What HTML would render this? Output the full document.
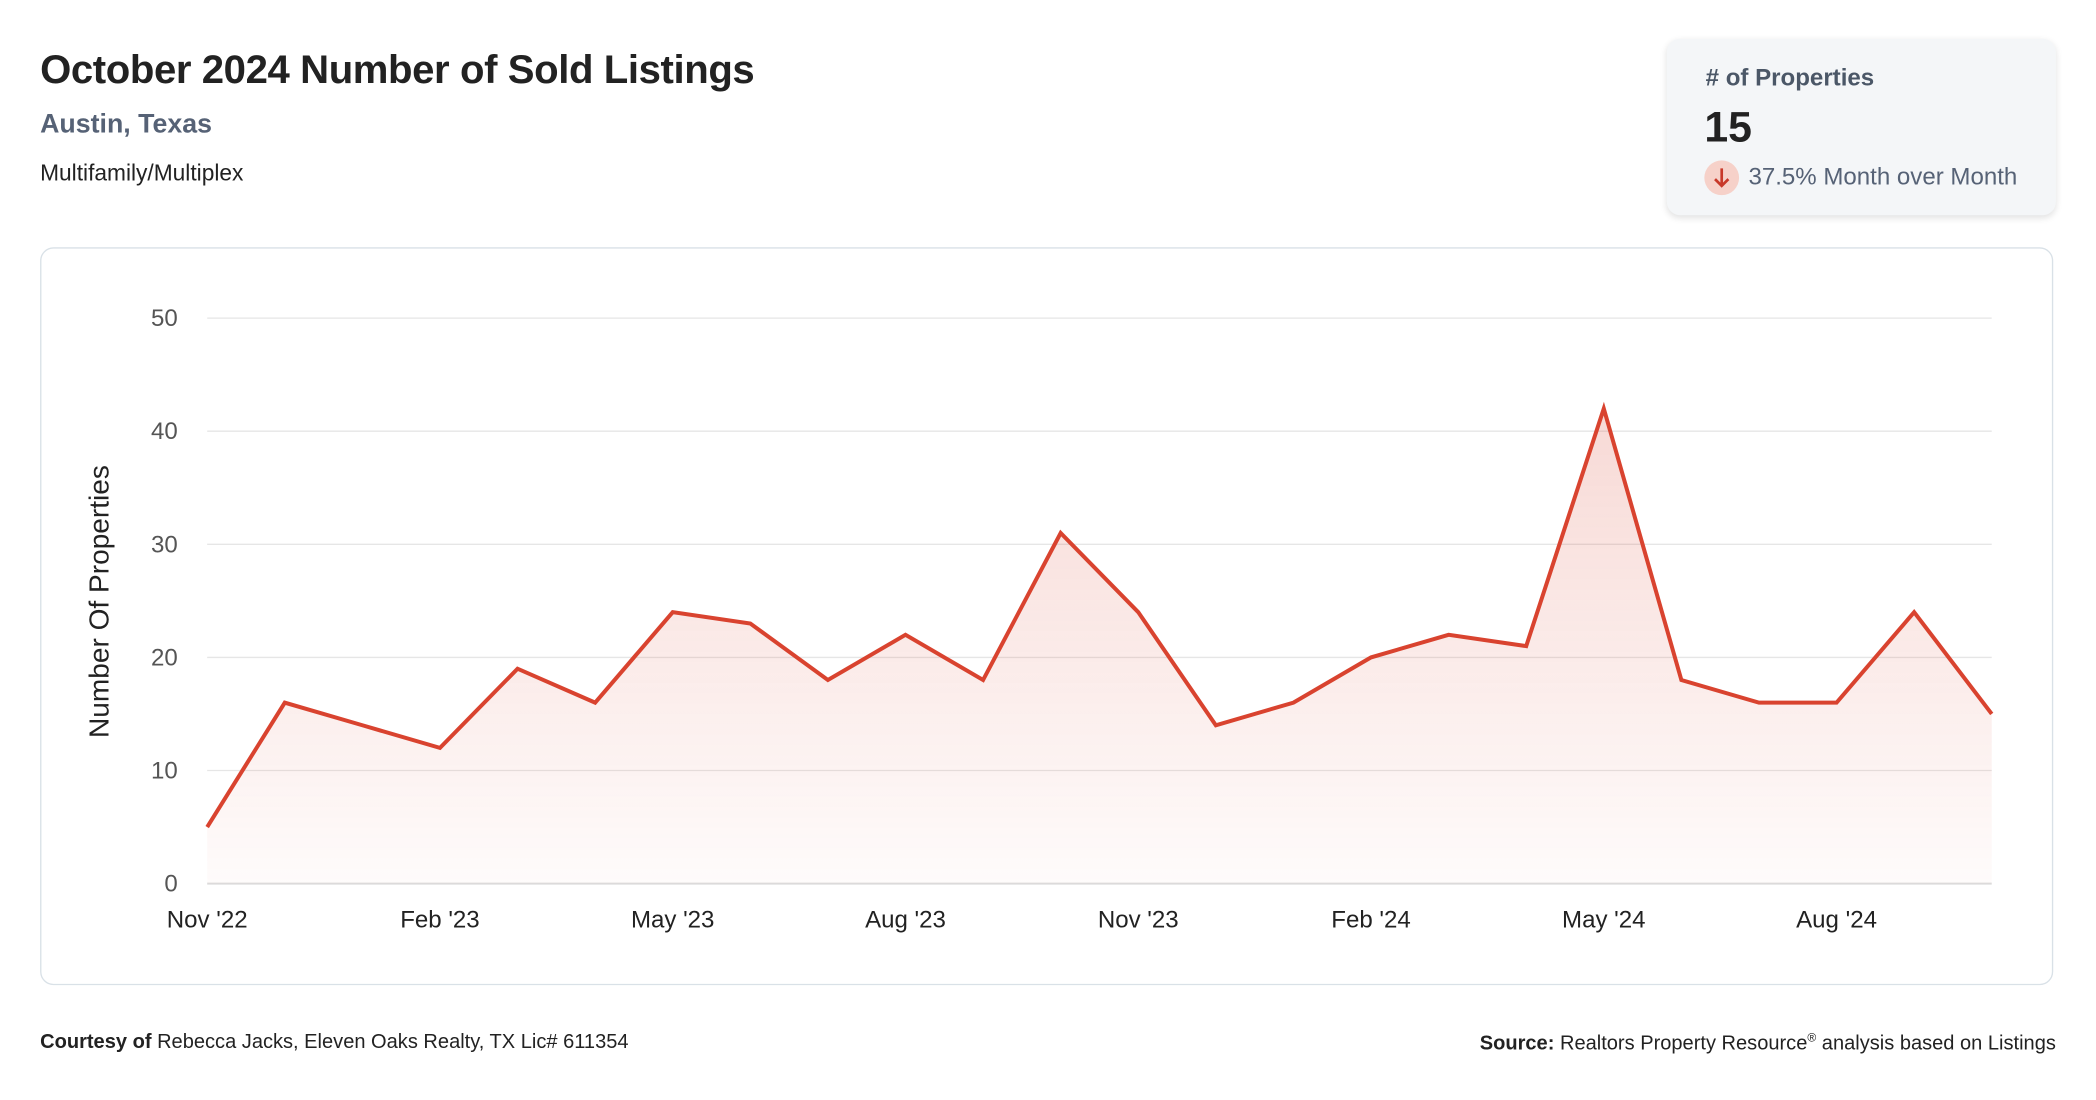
<!DOCTYPE html>
<html><head><meta charset="utf-8"><style>
html,body{margin:0;padding:0;background:#fff;width:2096px;height:1100px;overflow:hidden}
#wrap{position:absolute;left:0;top:0;width:1568px;height:823px;transform:scale(1.33673);transform-origin:0 0;font-family:"Liberation Sans",Arial,sans-serif}
.abs{position:absolute;white-space:nowrap}
</style></head><body>
<div id="wrap">
<div class="abs" style="left:30px;top:36px;font-size:30px;font-weight:bold;color:#222;letter-spacing:-0.3px">October 2024 Number of Sold Listings</div>
<div class="abs" style="left:30px;top:82px;font-size:20px;font-weight:bold;color:#566276">Austin, Texas</div>
<div class="abs" style="left:30px;top:120px;font-size:17px;color:#222">Multifamily/Multiplex</div>

<div class="abs" style="left:1247px;top:29px;width:291px;height:132px;background:#f4f6f8;border-radius:10px;box-shadow:0 2px 5px rgba(0,0,0,0.12)">
  <div class="abs" style="left:29px;top:19px;font-size:18px;font-weight:bold;color:#4b5767">#&nbsp;of Properties</div>
  <div class="abs" style="left:28px;top:48px;font-size:32px;font-weight:bold;color:#222">15</div>
  <div class="abs" style="left:28px;top:91px;width:26px;height:26px;border-radius:50%;background:#f6d1c9">
    <svg width="26" height="26" viewBox="0 0 26 26"><path d="M13 6 V19 M8 14 L13 19 L18 14" stroke="#c8392a" stroke-width="2" fill="none"/></svg>
  </div>
  <div class="abs" style="left:61px;top:93px;font-size:18px;color:#566276">37.5% Month over Month</div>
</div>

<div class="abs" style="left:30px;top:185px;width:1506px;height:552px;border:1px solid #d9e1e7;border-radius:10px;box-sizing:border-box"></div>
<svg class="abs" id="chart" style="left:0;top:0" width="1568" height="823"></svg>

<div class="abs" style="left:30px;top:771px;font-size:15px;color:#222"><b>Courtesy of</b> Rebecca Jacks, Eleven Oaks Realty, TX Lic# 611354</div>
<div class="abs" style="right:30px;top:771px;font-size:15px;color:#222"><b>Source:</b> Realtors Property Resource<sup style="font-size:9px">®</sup> analysis based on Listings</div>
</div>
<script>
const months = ["Nov '22","Dec '22","Jan '23","Feb '23","Mar '23","Apr '23","May '23","Jun '23","Jul '23","Aug '23","Sep '23","Oct '23","Nov '23","Dec '23","Jan '24","Feb '24","Mar '24","Apr '24","May '24","Jun '24","Jul '24","Aug '24","Sep '24","Oct '24"];
const soldCounts = [5,16,14,12,19,16,24,23,18,22,18,31,24,14,16,20,22,21,42,18,16,16,24,15];
const yTicks = [0,10,20,30,40,50];
const xLabelIdx = [0,3,6,9,12,15,18,21];

const NS="http://www.w3.org/2000/svg";
const svg=document.getElementById('chart');
const X0=155,X1=1490,Y0=661,Y1=238,YMAX=50;
const xs=i=>X0+(X1-X0)*i/(months.length-1);
const ys=v=>Y0-(Y0-Y1)*v/YMAX;
function mk(t,a){const e=document.createElementNS(NS,t);for(const k in a)e.setAttribute(k,a[k]);svg.appendChild(e);return e;}

const defs=mk('defs',{});
defs.innerHTML='<linearGradient id="g" x1="0" y1="0" x2="0" y2="1"><stop offset="0" stop-color="#d9432f" stop-opacity="0.2"/><stop offset="1" stop-color="#d9432f" stop-opacity="0.02"/></linearGradient>';

yTicks.forEach(t=>{
  const l=mk('line',{x1:X0,x2:X1,y1:ys(t),y2:ys(t),stroke:t===0?'#dcdcdc':'#e6e6e6','stroke-width':t===0?1.5:1});
  
  
  const tx=mk('text',{x:133,y:ys(t)+6,'text-anchor':'end','font-size':18,fill:'#555'});
  tx.textContent=t;
  
  
});
xLabelIdx.forEach(i=>{
  const tx=mk('text',{x:xs(i),y:694,'text-anchor':'middle','font-size':18,fill:'#222'});
  tx.textContent=months[i];
  
  
});
const yt=mk('text',{x:0,y:0,'text-anchor':'middle','font-size':21,fill:'#222',transform:'translate(81,450) rotate(-90)'});
yt.textContent='Number Of Properties';



const pts=soldCounts.map((v,i)=>xs(i)+','+ys(v));
const area=mk('path',{d:'M'+xs(0)+','+Y0+' L'+pts.join(' L')+' L'+xs(soldCounts.length-1)+','+Y0+' Z',fill:'url(#g)'});


const line=mk('polyline',{points:pts.join(' '),fill:'none',stroke:'#d9432f','stroke-width':3,'stroke-linejoin':'miter'});


</script>
</body></html>
